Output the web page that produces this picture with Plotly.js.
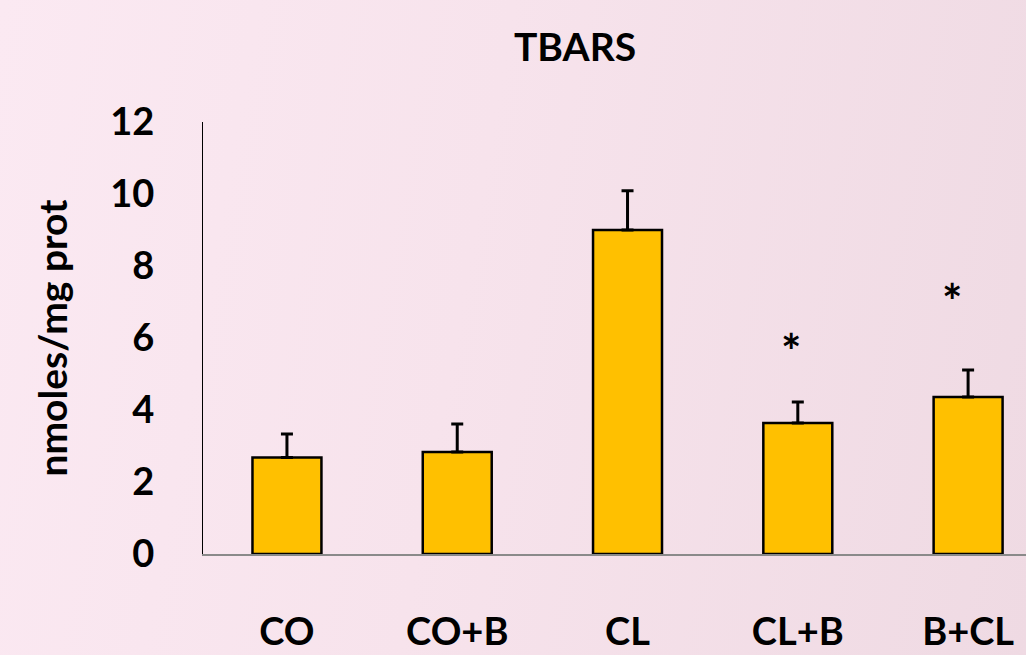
<!DOCTYPE html>
<html>
<head>
<meta charset="utf-8">
<script src="https://cdn.plot.ly/plotly-3.0.1.min.js"></script>
<style>
  html, body { margin: 0; padding: 0; width: 1026px; height: 655px; overflow: hidden; }
  body { background: linear-gradient(100deg, #fbe9f2 0%, #f7e3ec 45%, #efdae3 100%); }
  #chart { width: 1026px; height: 655px; }
</style>
</head>
<body>
<div id="chart"></div>
<script>
// Data
const categories = ['CO', 'CO+B', 'CL', 'CL+B', 'B+CL'];
const tbarsMean  = [2.68, 2.83, 9.0, 3.64, 4.36];
const tbarsSem   = [0.65, 0.78, 1.09, 0.58, 0.75];
const significance = ['', '', '', '*', '*'];
const markLevel    = [null, null, null, 5.95, 7.35];

const FONT = 'Lato, "Open Sans", sans-serif';

const trace = {
  type: 'bar',
  x: categories,
  y: tbarsMean,
  width: 0.405,
  marker: { color: '#FFC000', line: { color: '#000000', width: 2.5 } },
  error_y: { type: 'data', array: tbarsSem, symmetric: false, arrayminus: tbarsMean.map(() => 0),
             color: '#000000', thickness: 3, width: 6 },
  hoverinfo: 'x+y'
};

const annotations = [];
categories.forEach((c, i) => {
  if (significance[i]) {
    annotations.push({
      x: c, y: markLevel[i], xref: 'x', yref: 'y',
      text: significance[i], showarrow: false,
      xshift: i === 4 ? -16 : -7, yshift: -11,
      font: { family: FONT, size: 48, color: '#000', weight: 'bold' }
    });
  }
});

const layout = {
  width: 1026, height: 655,
  paper_bgcolor: 'rgba(0,0,0,0)',
  plot_bgcolor: 'rgba(0,0,0,0)',
  margin: { l: 203, r: 0, t: 122, b: 101, pad: 0 },
  showlegend: false,
  title: {
    text: 'TBARS',
    font: { family: FONT, size: 39, color: '#000', weight: 'bold' },
    x: 0.5605, xref: 'container', xanchor: 'center',
    y: 0.928, yref: 'container', yanchor: 'middle'
  },
  xaxis: {
    type: 'category',
    range: [-0.493, 4.34],
    showline: true, linecolor: '#8a8a8a', linewidth: 2,
    ticks: '', showgrid: false, zeroline: false,
    ticklabelstandoff: 43,
    tickfont: { family: FONT, size: 38, color: '#000', weight: 'bold' }
  },
  yaxis: {
    range: [0, 12],
    tickvals: [0, 2, 4, 6, 8, 10, 12],
    showline: true, linecolor: '#000', linewidth: 1,
    ticks: '', showgrid: false, zeroline: false,
    ticklabelstandoff: 40,
    tickfont: { family: FONT, size: 38, color: '#000', weight: 'bold' },
    title: { text: 'nmoles/mg prot', standoff: 30,
             font: { family: FONT, size: 39, color: '#000', weight: 'bold' } }
  },
  annotations: annotations
};

Plotly.newPlot('chart', [trace], layout, { displayModeBar: false, staticPlot: true });
</script>
</body>
</html>
